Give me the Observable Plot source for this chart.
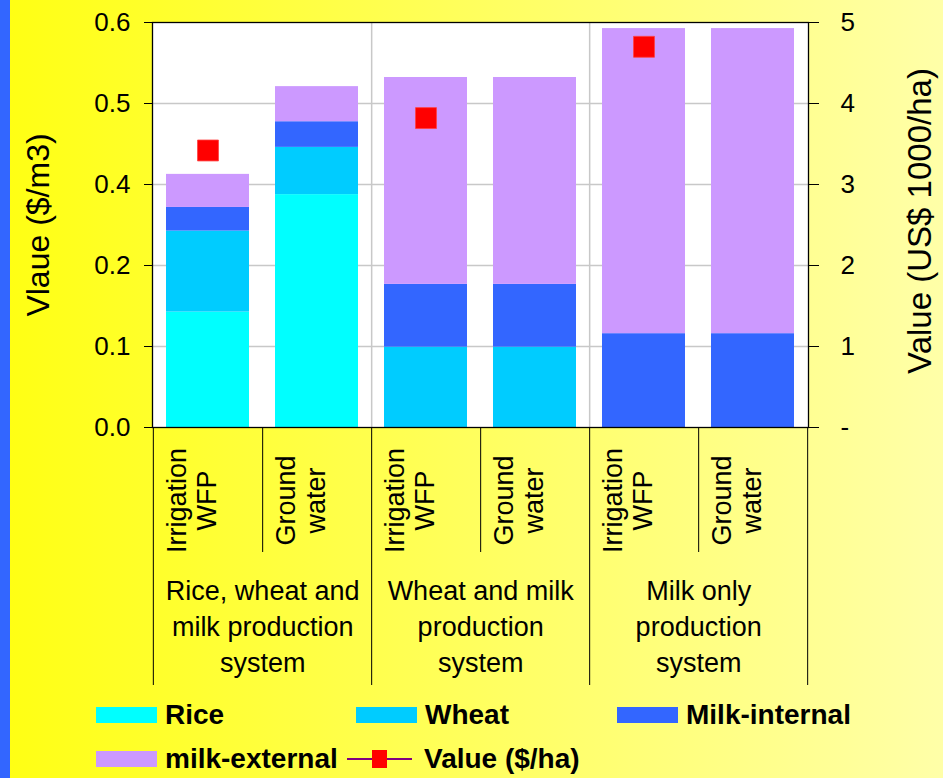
<!DOCTYPE html>
<html>
<head>
<meta charset="utf-8">
<script src="https://cdn.jsdelivr.net/npm/d3@7"></script>
<script src="https://cdn.jsdelivr.net/npm/@observablehq/plot@0.6"></script>
<style>
  html, body { margin: 0; padding: 0; }
  #wrap {
    position: relative; width: 949px; height: 778px; overflow: hidden;
    background: linear-gradient(to right, #3366FF 0px, #3366FF 10px, #FFFF14 10px, #FFFFA8 943px, #FFFFFF 943px);
    font-family: "Liberation Sans", Arial, sans-serif;
  }
  #chart { position: absolute; left: 0; top: 0; }
  .lg { position: absolute; display: flex; align-items: center; font-weight: bold; font-size: 28px; color: #000; white-space: nowrap; }
  .sw { width: 61px; height: 16px; margin-right: 8px; }
  .lineSw { position: relative; width: 65px; height: 20px; margin-right: 12px; }
  .lineSw .ln { position: absolute; left: 0; right: 0; top: 9px; height: 2px; background: #800080; }
  .lineSw .sq { position: absolute; left: 25px; top: 1px; width: 15px; height: 18px; background: #FF0000; }
</style>
</head>
<body>
<div id="wrap">
  <div id="chart"></div>
  <div id="legend"></div>
</div>
<script>
// ---- data ----
const groups = ["Rice, wheat and\nmilk production\nsystem", "Wheat and milk\nproduction\nsystem", "Milk only\nproduction\nsystem"];
const sources = ["Irrigation\nWFP", "Ground\nwater"];
const seriesNames = ["Rice", "Wheat", "Milk-internal", "milk-external"];
const seriesColors = ["#00FFFF", "#00CCFF", "#3366FF", "#CC99FF"];
const rice         = [0.171, 0.345, 0,     0,     0,     0];
const wheat        = [0.120, 0.070, 0.119, 0.119, 0,     0];
const milkInternal = [0.035, 0.038, 0.093, 0.093, 0.139, 0.139];
const milkExternal = [0.049, 0.052, 0.3065, 0.3065, 0.452, 0.452];
const valueHa      = [3.42, null, 3.82, null, 4.70, null]; // US$ 1000/ha (right axis)
const leftTicks = [0, 0.12, 0.24, 0.36, 0.48, 0.6];
const leftMax = 0.6, rightMax = 5;

// ---- build tables ----
const ids = [];
groups.forEach((g, gi) => sources.forEach((s, si) => ids.push(gi + "-" + si)));
const seriesValues = [rice, wheat, milkInternal, milkExternal];
const table = [];
ids.forEach((id, i) => seriesNames.forEach((s, k) => table.push({id, series: s, value: seriesValues[k][i]})));
const valueRows = ids.map((id, i) => ({id, v: valueHa[i]})).filter(d => d.v != null);
const labelRows = ids.map((id, i) => ({id, label: sources[i % 2]}));
const groupRows = groups.map((g, gi) => ({id: ids[gi * 2], label: g}));

// ---- layout ----
const W = 949, H = 700;
const mL = 152, mR = 141, mT = 22, mB = 273;
const step = (W - mL - mR) / ids.length;
const pxPerUnit = (H - mT - mB) / leftMax;
const innerSepDepth = 125 / pxPerUnit;
const groupSepDepth = 258 / pxPerUnit;
const font = "Liberation Sans, Arial, sans-serif";

const chart = Plot.plot({
  width: W, height: H,
  marginLeft: mL, marginRight: mR, marginTop: mT, marginBottom: mB,
  style: {background: "transparent", fontFamily: font, color: "black", overflow: "visible"},
  x: {type: "band", domain: ids, paddingInner: 0.234, paddingOuter: 0.117, axis: null},
  y: {domain: [0, leftMax], axis: null},
  color: {domain: seriesNames, range: seriesColors},
  marks: [
    Plot.frame({fill: "white", stroke: null}),
    Plot.ruleY(leftTicks.slice(1, -1), {stroke: "#c8c8c8", strokeWidth: 1.5}),
    Plot.ruleX([ids[1], ids[3]], {x: d => d, dx: step / 2, stroke: "#c8c8c8", strokeWidth: 1.5}),
    Plot.barY(table, {x: "id", y: "value", fill: "series", order: seriesNames}),
    Plot.dot(valueRows, {x: "id", y: d => d.v * leftMax / rightMax, symbol: "square", r: 11.8, fill: "#FF0000", stroke: "#ff4040", strokeWidth: 0.8}),
    Plot.frame({stroke: "black", strokeWidth: 1.3}),
    Plot.axisY({ticks: leftTicks, tickFormat: d3.format(".1f"), tickSize: 8, tickPadding: 14, fontSize: 26, label: null, stroke: "black"}),
    Plot.axisY({anchor: "right", ticks: leftTicks, tickFormat: d => d === 0 ? "-" : String(Math.round(d * rightMax / leftMax)), tickSize: 10, tickPadding: 22, fontSize: 26, label: null, stroke: "black"}),
    Plot.tickY(leftTicks, {y: d => d, x: ids[5], dx: step / 2 - 4, stroke: "black"}),
    // separators under the axis
    Plot.ruleX([ids[0], ids[2], ids[4]], {x: d => d, dx: step / 2, y1: () => 0, y2: () => -innerSepDepth, stroke: "black", strokeWidth: 1}),
    Plot.ruleX([ids[1], ids[3], ids[5]], {x: d => d, dx: step / 2, y1: () => 0, y2: () => -groupSepDepth, stroke: "black", strokeWidth: 1}),
    Plot.ruleX([ids[0]], {x: d => d, dx: -step / 2, y1: () => 0, y2: () => -groupSepDepth, stroke: "black", strokeWidth: 1}),
    // category labels
    Plot.text(labelRows, {x: "id", text: "label", frameAnchor: "bottom", dy: 73, dx: -17, rotate: -90, fontSize: 27, lineHeight: 1.12, lineAnchor: "middle", textAnchor: "middle", fill: "black"}),
    Plot.text(groupRows, {x: "id", text: "label", frameAnchor: "bottom", dy: 197, dx: step / 2, fontSize: 27, lineHeight: 1.33, lineAnchor: "middle", textAnchor: "middle", fill: "black"}),
    // axis titles
    Plot.text(["Vlaue ($/m3)"], {frameAnchor: "left", dx: -114, rotate: -90, fontSize: 32, fill: "black", textAnchor: "middle"}),
    Plot.text(["Value (US$ 1000/ha)"], {frameAnchor: "right", dx: 112, dy: -4, rotate: -90, fontSize: 33, fill: "black", textAnchor: "middle"})
  ]
});
document.getElementById("chart").appendChild(chart);

// ---- legend ----
const legend = document.getElementById("legend");
const legendPos = [[96, 716], [356, 716], [617, 716], [96, 760]];
seriesNames.forEach((s, k) => {
  const el = document.createElement("div");
  el.className = "lg";
  el.style.left = legendPos[k][0] + "px";
  el.style.top = (legendPos[k][1] - 17) + "px";
  el.innerHTML = `<div class="sw" style="background:${seriesColors[k]}"></div><span>${s}</span>`;
  legend.appendChild(el);
});
const vl = document.createElement("div");
vl.className = "lg";
vl.style.left = "347px";
vl.style.top = (760 - 17) + "px";
vl.innerHTML = `<div class="lineSw"><div class="ln"></div><div class="sq"></div></div><span>Value ($/ha)</span>`;
legend.appendChild(vl);
</script>
</body>
</html>
